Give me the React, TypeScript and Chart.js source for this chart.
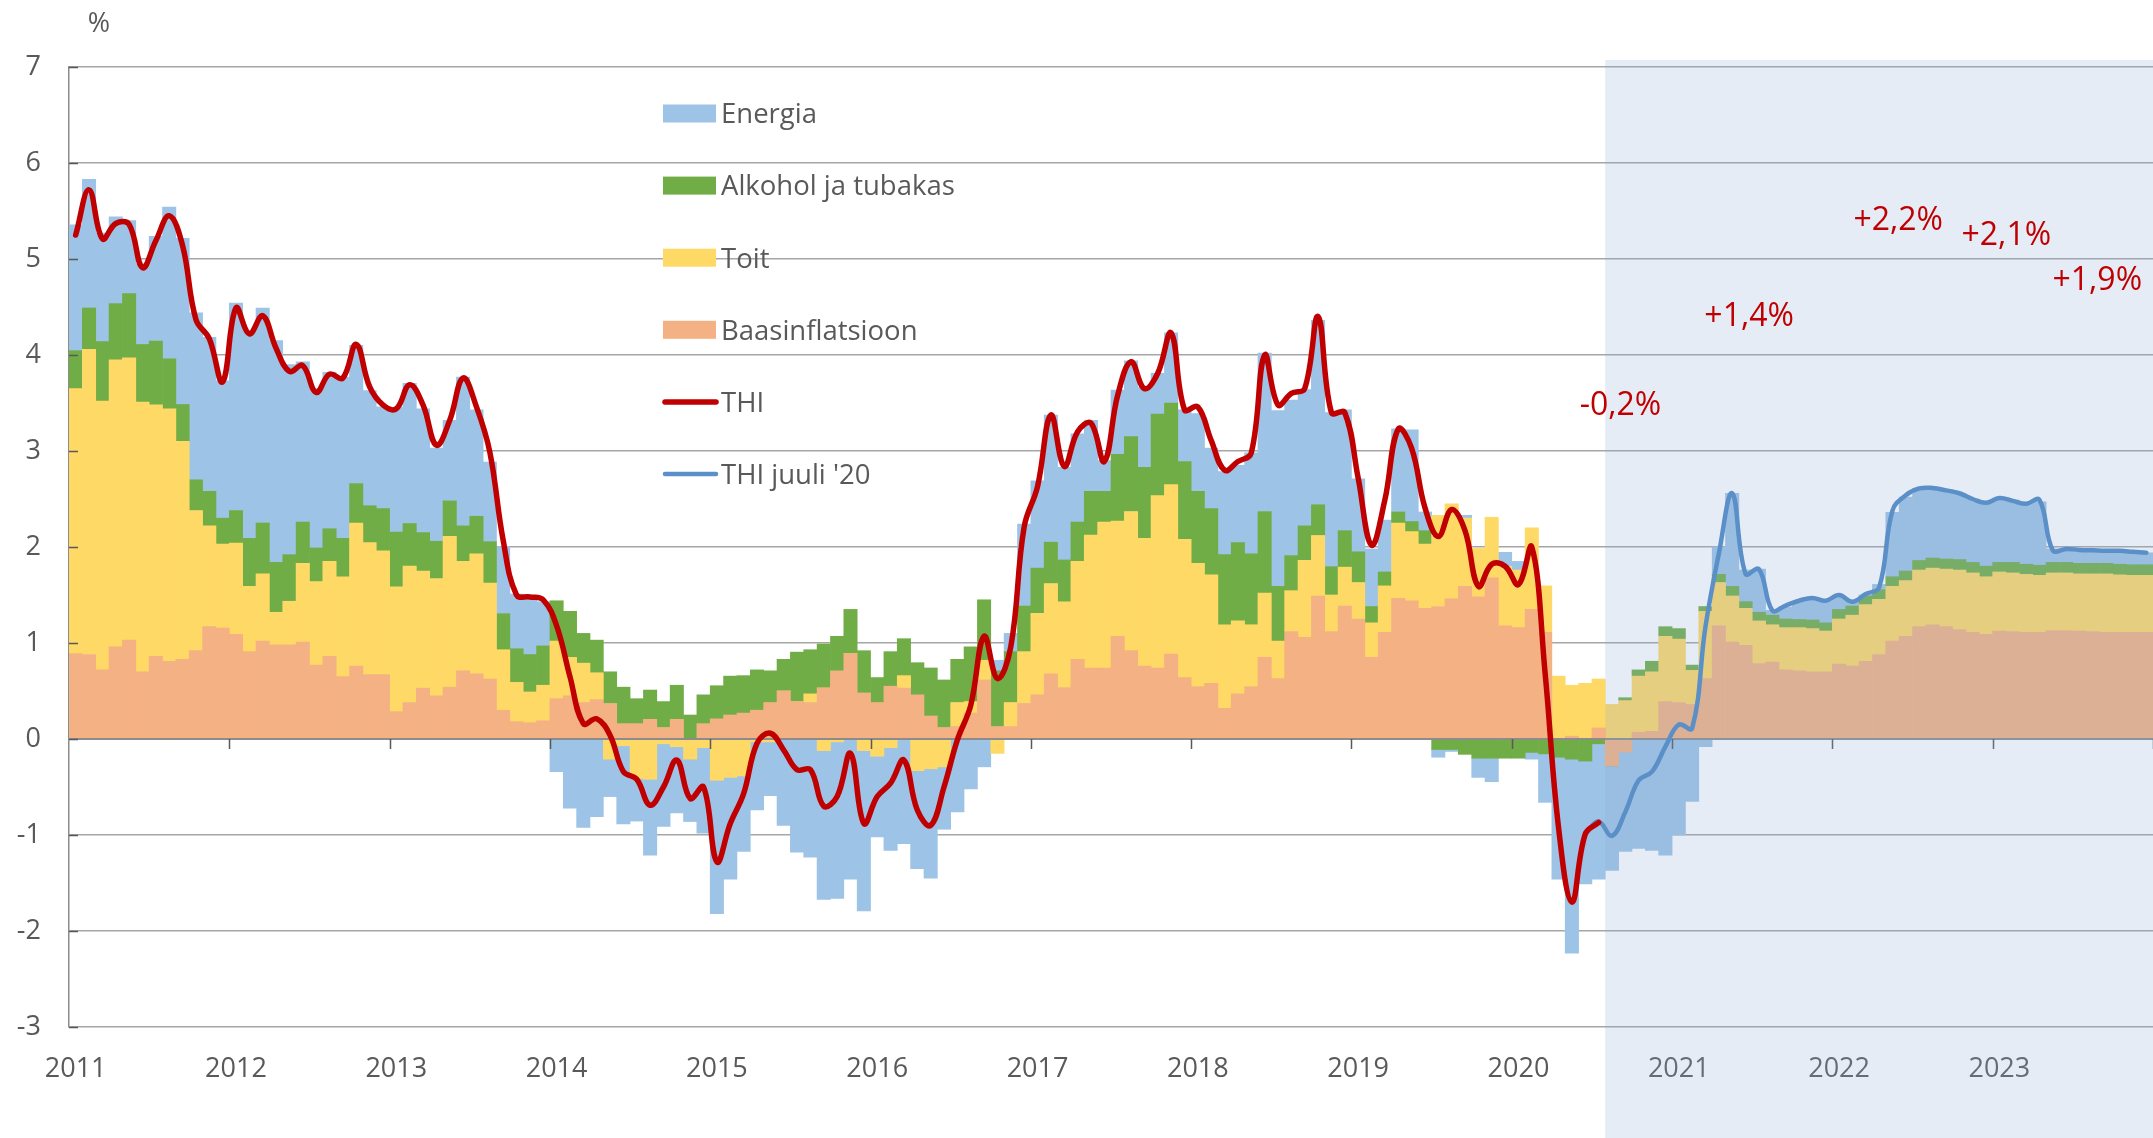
import React, { useEffect, useRef } from 'react';
import { Chart, registerables } from 'chart.js';

Chart.register(...registerables);

const FONT = "'Open Sans', 'Noto Sans', sans-serif";
const TEXT = '#595959';

// Categories: monthly, Jan 2011 .. Dec 2023
const years = [2011, 2012, 2013, 2014, 2015, 2016, 2017, 2018, 2019, 2020, 2021, 2022, 2023];
const monthLabels: string[] = [];
years.forEach((yr) => {
  for (let m = 1; m <= 12; m++) monthLabels.push(`${yr}-${m < 10 ? '0' + m : m}`);
});

// Contributions (percentage points)
const baasinflatsioon = [
  0.89, 0.88, 0.72, 0.96, 1.03, 0.70, 0.86, 0.81, 0.83, 0.92, 1.17, 1.155,
  1.09, 0.91, 1.02, 0.98, 0.98, 1.01, 0.77, 0.86, 0.65, 0.76, 0.67, 0.67,
  0.285, 0.38, 0.53, 0.45, 0.54, 0.71, 0.68, 0.625, 0.30, 0.18, 0.17, 0.19,
  0.42, 0.45, 0.38, 0.41, 0.37, 0.16, 0.16, 0.205, 0.12, 0.205, 0, 0.16,
  0.21, 0.25, 0.27, 0.30, 0.38, 0.50, 0.39, 0.38, 0.535, 0.71, 0.89, 0.48,
  0.38, 0.55, 0.53, 0.46, 0.24, 0.12, 0.13, 0.27, 0.615, 0.13, 0.13, 0.37,
  0.46, 0.68, 0.535, 0.83, 0.74, 0.74, 1.07, 0.92, 0.76, 0.74, 0.885, 0.64,
  0.545, 0.58, 0.32, 0.47, 0.545, 0.85, 0.63, 1.12, 1.06, 1.49, 1.12, 1.385,
  1.25, 0.85, 1.11, 1.465, 1.44, 1.36, 1.38, 1.46, 1.59, 1.48, 1.68, 1.18,
  1.16, 1.35, 1.11, 0, 0.03, 0, 0.115, -0.28, -0.135, 0.07, 0.08, 0.39,
  0.38, 0.36, 0.63, 1.18, 1.01, 0.976, 0.785, 0.80, 0.72, 0.71, 0.70, 0.70,
  0.78, 0.76, 0.81, 0.88, 1.02, 1.07, 1.17, 1.19, 1.17, 1.14, 1.11, 1.09,
  1.125, 1.12, 1.11, 1.11, 1.13, 1.13, 1.125, 1.12, 1.11, 1.11, 1.11, 1.11,
];

const toit = [
  2.76, 3.18, 2.80, 2.99, 2.94, 2.81, 2.62, 2.63, 2.27, 1.46, 1.05, 0.875,
  0.95, 0.68, 0.70, 0.34, 0.455, 0.82, 0.87, 0.99, 1.04, 1.49, 1.375, 1.29,
  1.30, 1.42, 1.22, 1.22, 1.57, 1.14, 1.25, 1.0, 0.63, 0.41, 0.32, 0.37,
  0.60, 0.40, 0.41, 0.28, -0.21, -0.07, -0.41, -0.42, -0.05, -0.08, -0.21, -0.09,
  -0.43, -0.40, -0.385, -0.03, -0.03, 0, 0, 0.09, -0.12, -0.03, 0, -0.12,
  -0.18, -0.09, 0.13, -0.33, -0.31, -0.29, 0.25, 0.12, 0.205, -0.15, 0.25, 0.54,
  0.85, 0.94, 0.895, 1.02, 1.385, 1.52, 1.20, 1.45, 1.33, 1.795, 1.765, 1.44,
  1.285, 1.13, 0.87, 0.76, 0.645, 0.67, 0.39, 0.425, 0.80, 0.63, 0.38, 0.405,
  0.38, 0.36, 0.485, 0.785, 0.72, 0.67, 0.95, 0.99, 0.71, 0.505, 0.63, 0.62,
  0.60, 0.85, 0.485, 0.655, 0.53, 0.58, 0.51, 0.36, 0.40, 0.585, 0.62, 0.68,
  0.66, 0.355, 0.70, 0.45, 0.48, 0.385, 0.445, 0.39, 0.44, 0.45, 0.45, 0.425,
  0.47, 0.53, 0.59, 0.575, 0.57, 0.58, 0.59, 0.59, 0.60, 0.62, 0.62, 0.60,
  0.615, 0.61, 0.605, 0.595, 0.60, 0.60, 0.595, 0.60, 0.61, 0.60, 0.595, 0.595,
];

const alkohol = [
  0.395, 0.43, 0.62, 0.585, 0.67, 0.60, 0.665, 0.52, 0.385, 0.32, 0.36, 0.27,
  0.34, 0.50, 0.53, 0.52, 0.485, 0.43, 0.35, 0.34, 0.40, 0.41, 0.385, 0.44,
  0.57, 0.445, 0.40, 0.39, 0.37, 0.37, 0.39, 0.43, 0.375, 0.35, 0.39, 0.41,
  0.42, 0.48, 0.31, 0.34, 0.33, 0.38, 0.26, 0.305, 0.27, 0.355, 0.25, 0.30,
  0.345, 0.405, 0.39, 0.42, 0.33, 0.33, 0.515, 0.46, 0.455, 0.36, 0.46, 0.44,
  0.26, 0.36, 0.385, 0.335, 0.50, 0.495, 0.45, 0.57, 0.63, 0.58, 0.53, 0.475,
  0.47, 0.43, 0.435, 0.41, 0.455, 0.32, 0.695, 0.78, 0.74, 0.85, 0.85, 0.81,
  0.75, 0.69, 0.73, 0.815, 0.74, 0.85, 0.57, 0.365, 0.36, 0.32, 0.295, 0.38,
  0.32, 0.17, 0.145, 0.115, 0.105, 0.14, -0.11, -0.11, -0.16, -0.20, -0.20, -0.20,
  -0.20, -0.14, -0.155, -0.19, -0.21, -0.23, -0.05, 0, 0.03, 0.065, 0.11, 0.10,
  0.11, 0.055, 0.05, 0.085, 0.10, 0.07, 0.09, 0.10, 0.09, 0.085, 0.09, 0.085,
  0.10, 0.095, 0.09, 0.10, 0.10, 0.10, 0.10, 0.105, 0.105, 0.11, 0.11, 0.11,
  0.10, 0.11, 0.105, 0.105, 0.11, 0.11, 0.11, 0.11, 0.11, 0.11, 0.11, 0.11,
];

const energia = [
  1.31, 1.34, 1.13, 0.905, 0.76, 0.84, 1.09, 1.58, 1.73, 1.74, 1.605, 1.43,
  2.16, 2.16, 2.24, 2.31, 1.98, 1.67, 1.66, 1.63, 1.68, 1.44, 1.20, 1.06,
  1.30, 1.46, 1.29, 0.97, 0.84, 1.55, 1.11, 0.83, 0.70, 0.57, 0.605, 0.46,
  -0.34, -0.72, -0.92, -0.81, -0.39, -0.815, -0.445, -0.79, -0.86, -0.69, -0.65, -0.89,
  -1.39, -1.06, -0.785, -0.71, -0.56, -0.90, -1.18, -1.23, -1.55, -1.63, -1.46, -1.67,
  -0.84, -1.07, -1.09, -1.02, -1.14, -0.65, -0.76, -0.52, -0.29, 0.11, 0.19, 0.855,
  0.91, 1.325, 0.965, 0.92, 0.74, 0.32, 0.67, 0.79, 0.83, 0.425, 0.73, 0.54,
  0.81, 0.63, 0.865, 0.805, 1.05, 1.65, 1.83, 1.62, 1.42, 1.92, 1.605, 1.26,
  0.76, 0.60, 0.54, 0.865, 0.955, 0.195, -0.08, -0.02, 0.03, -0.20, -0.245, 0.145,
  0.09, -0.07, -0.505, -1.27, -2.02, -1.28, -1.41, -1.09, -1.035, -1.14, -1.16, -1.21,
  -1.0, -0.65, -0.08, 0.285, 0.97, 0.33, 0.45, 0.05, 0.125, 0.185, 0.22, 0.23,
  0.13, 0.045, 0.01, 0.055, 0.67, 0.77, 0.75, 0.74, 0.725, 0.69, 0.66, 0.67,
  0.67, 0.65, 0.64, 0.66, 0.14, 0.135, 0.135, 0.135, 0.14, 0.14, 0.135, 0.125,
];

// THI (actual), Jan 2011 .. Jul 2020
const thi = [
  5.25, 5.72, 5.21, 5.37, 5.36, 4.91, 5.19, 5.45, 5.14, 4.37, 4.17, 3.72,
  4.49, 4.22, 4.41, 4.07, 3.83, 3.89, 3.61, 3.80, 3.76, 4.11, 3.67, 3.48,
  3.44, 3.69, 3.48, 3.06, 3.32, 3.76, 3.46, 2.99, 2.07, 1.50, 1.48, 1.45,
  1.18, 0.65, 0.16, 0.21, 0.04, -0.34, -0.42, -0.69, -0.50, -0.22, -0.62, -0.50,
  -1.28, -0.88, -0.57, -0.045, 0.06, -0.115, -0.32, -0.32, -0.70, -0.60, -0.15, -0.88,
  -0.60, -0.46, -0.22, -0.74, -0.90, -0.50, -0.01, 0.35, 1.07, 0.63, 0.96, 2.21,
  2.63, 3.375, 2.84, 3.20, 3.29, 2.89, 3.58, 3.93, 3.65, 3.81, 4.23, 3.43,
  3.46, 3.11, 2.80, 2.89, 2.98, 4.0, 3.48, 3.60, 3.65, 4.40, 3.40, 3.40,
  2.72, 2.02, 2.49, 3.23, 3.03, 2.41, 2.11, 2.39, 2.17, 1.59, 1.82, 1.80,
  1.61, 2.0, 0.68, -0.92, -1.70, -0.99, -0.87,
];

// THI forecast (July 2020), from Jun 2020 .. Dec 2023
const thiJuuliStart = 113;
const thiJuuli = [
  -0.99, -0.86, -1.01, -0.76, -0.43, -0.34, -0.08,
  0.15, 0.11, 1.17, 1.93, 2.56, 1.72, 1.77, 1.34, 1.39, 1.44, 1.47, 1.44,
  1.50, 1.43, 1.51, 1.58, 2.38, 2.54, 2.61, 2.615, 2.59, 2.56, 2.50, 2.46,
  2.51, 2.48, 2.45, 2.49, 1.965, 1.98, 1.97, 1.965, 1.96, 1.96, 1.95, 1.94,
];

const forecastStartIndex = 114; // shading begins after this bar

// Annotations
const annoLabels = ['-0,2%', '+1,4%', '+2,2%', '+2,1%', '+1,9%'];
const annoMonth = [115.64, 125.27, 136.43, 144.52, 151.33];
const annoValue = [3.49, 4.42, 5.42, 5.26, 4.80];

const N = monthLabels.length;
const thiSeries = monthLabels.map((_, i) => (i < thi.length ? thi[i] : null));
const thiJuuliSeries = monthLabels.map((_, i) =>
  i >= thiJuuliStart && i - thiJuuliStart < thiJuuli.length ? thiJuuli[i - thiJuuliStart] : null
);

const legendOrder = [3, 2, 1, 0, 4, 5];

let overlayDone = false;

const overlayPlugin = {
  id: 'overlays',
  beforeDatasetsDraw() {
    overlayDone = false;
  },
  beforeDatasetDraw(chart: any, args: any) {
    const ds = chart.data.datasets[args.index];
    if (ds.type !== 'line' || overlayDone) return;
    overlayDone = true;
    const { ctx, chartArea } = chart;
    const x = chart.scales.x;
    const y = chart.scales.y;
    const step = x.getPixelForValue(1) - x.getPixelForValue(0);
    const boundary = (i: number) => x.getPixelForValue(i) + step / 2;
    const y0 = y.getPixelForValue(0);
    ctx.save();
    // horizontal axis at zero
    ctx.strokeStyle = '#8C8C8C';
    ctx.lineWidth = 2;
    ctx.beginPath();
    ctx.moveTo(chartArea.left, y0);
    ctx.lineTo(chartArea.right, y0);
    ctx.stroke();
    // year tick marks
    ctx.strokeStyle = '#595959';
    ctx.lineWidth = 1.5;
    ctx.beginPath();
    for (let i = 11; i < N; i += 12) {
      const px = Math.round(boundary(i)) + 0.5;
      ctx.moveTo(px, y0);
      ctx.lineTo(px, y0 + 10);
    }
    ctx.stroke();
    // y tick marks (inside)
    ctx.beginPath();
    y.ticks.forEach((t: any) => {
      const py = Math.round(y.getPixelForValue(t.value)) + 0.5;
      ctx.moveTo(chartArea.left, py);
      ctx.lineTo(chartArea.left + 9, py);
    });
    ctx.stroke();
    // forecast shading
    const sx = boundary(forecastStartIndex);
    const sy = y.getPixelForValue(y.max) - 7;
    ctx.fillStyle = 'rgba(142,175,213,0.23)';
    ctx.fillRect(sx, sy, chart.width - sx, chart.height - sy);
    ctx.restore();
  },
  afterDraw(chart: any) {
    const { ctx, chartArea } = chart;
    const x = chart.scales.x;
    const y = chart.scales.y;
    ctx.save();
    // "%" unit label
    ctx.fillStyle = TEXT;
    ctx.font = `27px ${FONT}`;
    ctx.textAlign = 'center';
    ctx.textBaseline = 'alphabetic';
    ctx.fillText('%', chartArea.left + 30, chartArea.top - 45 + 9.6);

    // legend
    const lx = chartArea.left + 594;
    const ly = chartArea.top + 46.5;
    const rowH = 72.1;
    legendOrder.forEach((di, k) => {
      const ds = chart.data.datasets[di];
      const cy = ly + k * rowH;
      if (ds.type === 'line') {
        ctx.strokeStyle = ds.borderColor;
        ctx.lineWidth = ds.borderWidth;
        ctx.lineCap = 'round';
        ctx.beginPath();
        ctx.moveTo(lx + 2, cy);
        ctx.lineTo(lx + 53, cy);
        ctx.stroke();
      } else {
        ctx.fillStyle = ds.backgroundColor;
        ctx.fillRect(lx, cy - 9, 53, 18);
      }
      ctx.fillStyle = TEXT;
      ctx.font = `27.5px ${FONT}`;
      ctx.textAlign = 'left';
      ctx.fillText(ds.label, lx + 58, cy + 9.8);
    });

    // annotations
    ctx.fillStyle = '#C00000';
    ctx.font = `32px ${FONT}`;
    ctx.textAlign = 'center';
    annoLabels.forEach((t, i) => {
      const px = x.getPixelForValue(annoMonth[i]);
      const py = y.getPixelForValue(annoValue[i]);
      ctx.fillText(t, px, py + 11.4);
    });
    ctx.restore();
  },
};

export default function App() {
  const ref = useRef<HTMLCanvasElement | null>(null);
  useEffect(() => {
    if (!ref.current) return;
    const barCommon = {
      type: 'bar' as const,
      stack: 'komponendid',
      categoryPercentage: 1,
      barPercentage: 1,
      borderWidth: 0,
      order: 1,
    };
    const chart = new Chart(ref.current, {
      type: 'bar',
      data: {
        labels: monthLabels,
        datasets: [
          { ...barCommon, label: 'Baasinflatsioon', data: baasinflatsioon, backgroundColor: '#F4B183' },
          { ...barCommon, label: 'Toit', data: toit, backgroundColor: '#FFD966' },
          { ...barCommon, label: 'Alkohol ja tubakas', data: alkohol, backgroundColor: '#70AD47' },
          { ...barCommon, label: 'Energia', data: energia, backgroundColor: '#9DC3E6' },
          {
            type: 'line' as const,
            label: 'THI',
            data: thiSeries,
            stack: 'thi',
            borderColor: '#C00000',
            borderWidth: 5.5,
            pointRadius: 0,
            tension: 0.4,
            borderCapStyle: 'round',
            borderJoinStyle: 'round',
            spanGaps: false,
            order: 0,
          } as any,
          {
            type: 'line' as const,
            label: "THI juuli '20",
            data: thiJuuliSeries,
            stack: 'thiJuuli',
            borderColor: '#5B8FC8',
            borderWidth: 4.5,
            pointRadius: 0,
            tension: 0.4,
            borderCapStyle: 'round',
            borderJoinStyle: 'round',
            spanGaps: false,
            order: 0,
          } as any,
        ],
      },
      options: {
        responsive: false,
        animation: false,
        devicePixelRatio: 1,
        layout: { padding: { left: 0, right: 0, top: 67, bottom: 0 } },
        plugins: {
          legend: { display: false },
          tooltip: { enabled: false },
        },
        scales: {
          x: {
            stacked: true,
            offset: true,
            grid: { display: false, drawTicks: false },
            border: { display: false },
            ticks: {
              autoSkip: false,
              maxRotation: 0,
              minRotation: 0,
              padding: 26,
              color: TEXT,
              font: { family: FONT, size: 27 },
              callback: (_v: any, i: number) => (i % 12 === 0 ? String(years[i / 12]) : ''),
            },
            afterFit: (s: any) => {
              s.height = 111;
              s.paddingLeft = 0;
              s.paddingRight = 0;
            },
          },
          y: {
            stacked: true,
            min: -3,
            max: 7,
            ticks: {
              stepSize: 1,
              padding: 28,
              color: TEXT,
              font: { family: FONT, size: 27 },
            },
            grid: { color: '#A6A6A6', lineWidth: 1.5, drawTicks: false },
            border: { display: true, color: '#8C8C8C', width: 1.5 },
            afterFit: (s: any) => {
              s.width = 69;
            },
          },
        },
      },
      plugins: [overlayPlugin],
    });
    return () => chart.destroy();
  }, []);

  return (
    <div style={{ position: 'fixed', left: 0, top: 0, width: 2153, height: 1138, background: '#fff' }}>
      <canvas ref={ref} width={2153} height={1138} style={{ display: 'block' }} />
    </div>
  );
}
